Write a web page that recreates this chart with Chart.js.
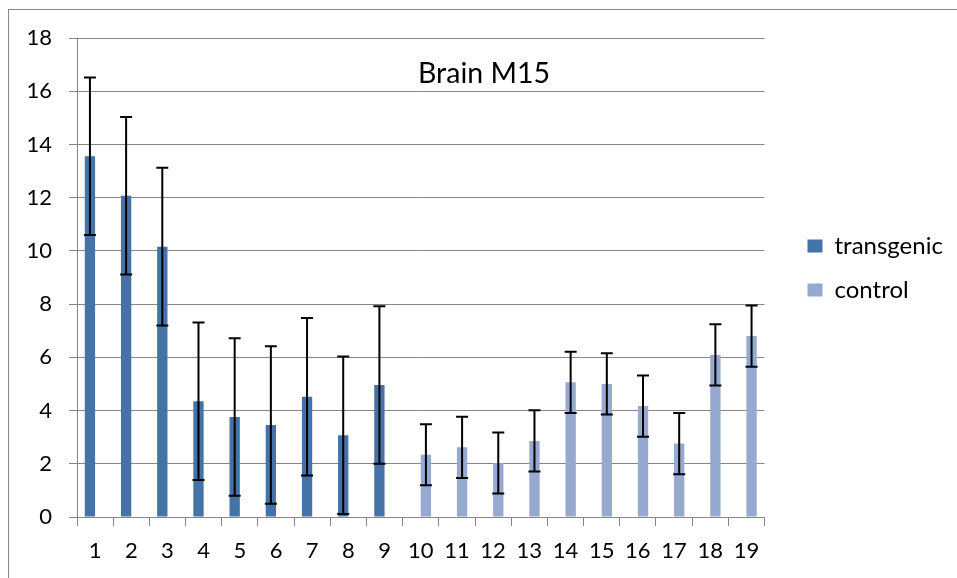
<!DOCTYPE html>
<html>
<head>
<meta charset="utf-8">
<script src="https://cdn.jsdelivr.net/npm/chart.js@4"></script>
<style>
  html, body { margin: 0; padding: 0; background: #fff; }
  #wrap { position: relative; width: 957px; height: 578px; overflow: hidden; }
  #frame { position: absolute; left: 8px; top: 9px; width: 1000px; height: 1000px; border: 1px solid #888; }
  canvas { position: absolute; left: 0; top: 0; }
</style>
</head>
<body>
<div id="wrap"><div id="frame"></div><canvas id="myChart" width="957" height="578"></canvas></div>
<script>
const labels = ['1','2','3','4','5','6','7','8','9','10','11','12','13','14','15','16','17','18','19'];

const transgenic = [13.56, 12.07, 10.16, 4.35, 3.76, 3.46, 4.52, 3.07, 4.96,
  null, null, null, null, null, null, null, null, null, null];
const transgenicErr = [2.96, 2.96, 2.96, 2.96, 2.96, 2.96, 2.96, 2.96, 2.96,
  0, 0, 0, 0, 0, 0, 0, 0, 0, 0];

const control = [null, null, null, null, null, null, null, null, null,
  2.34, 2.62, 2.03, 2.86, 5.06, 5.00, 4.17, 2.76, 6.09, 6.80];
const controlErr = [0, 0, 0, 0, 0, 0, 0, 0, 0,
  1.15, 1.15, 1.15, 1.15, 1.15, 1.15, 1.15, 1.15, 1.15, 1.15];

const yTicks = [0, 2, 4, 6, 8, 10, 12, 14, 16, 18];

const gray = '#868686';
const tickFont = { family: 'Lato', size: 22 };

// error bars drawn on top of each bar
const errorBars = {
  id: 'errorBars',
  afterDatasetsDraw(chart) {
    const ctx = chart.ctx;
    const y = chart.scales.y;
    chart.data.datasets.forEach((ds, i) => {
      const meta = chart.getDatasetMeta(i);
      meta.data.forEach((bar, j) => {
        const v = ds.data[j];
        if (v == null) return;
        const e = ds.errors[j];
        const top = y.getPixelForValue(v + e);
        const bot = y.getPixelForValue(v - e);
        ctx.save();
        ctx.strokeStyle = '#000';
        ctx.lineWidth = 2;
        ctx.beginPath();
        ctx.moveTo(bar.x, top); ctx.lineTo(bar.x, bot);
        ctx.moveTo(bar.x - 6, top); ctx.lineTo(bar.x + 6, top);
        ctx.moveTo(bar.x - 6, bot); ctx.lineTo(bar.x + 6, bot);
        ctx.stroke();
        ctx.restore();
      });
    });
  }
};

// title sits inside the plot area like in the excel chart
const innerTitle = {
  id: 'innerTitle',
  afterDraw(chart) {
    const ctx = chart.ctx;
    const a = chart.chartArea;
    ctx.save();
    ctx.font = '28.5px Lato';
    ctx.fillStyle = '#000';
    ctx.textAlign = 'center';
    ctx.textBaseline = 'alphabetic';
    ctx.fillText('Brain M15', a.left + 407, a.top + 44.5);
    ctx.restore();
  }
};

const data = {
  labels: labels,
  datasets: [{
    label: 'transgenic',
    backgroundColor: '#4572A7',
    data: transgenic,
    errors: transgenicErr
  }, {
    label: 'control',
    backgroundColor: '#95A9D1',
    data: control,
    errors: controlErr
  }]
};

const config = {
  type: 'bar',
  data: data,
  plugins: [errorBars, innerTitle],
  options: {
    responsive: false,
    animation: false,
    categoryPercentage: 0.57,
    barPercentage: 1.0,
    layout: { padding: { top: 38, left: 0, right: 12, bottom: 0 } },
    plugins: {
      legend: {
        position: 'right',
        align: 'start',
        // empty title only pushes the items down to mid height
        title: { display: true, text: '', font: { size: 10, lineHeight: 1 }, padding: { top: 0, bottom: 166 } },
        labels: {
          font: { family: 'Lato', size: 24 },
          color: '#000',
          boxWidth: 15,
          boxHeight: 13,
          padding: 20
        }
      },
      tooltip: { enabled: false }
    },
    scales: {
      x: {
        grid: { drawOnChartArea: false, tickLength: 9, color: gray },
        border: { color: gray },
        ticks: { font: tickFont, color: '#000', padding: 12, maxRotation: 0, autoSkip: false },
        afterFit: s => { s.height = 61; }
      },
      y: {
        min: 0,
        max: 18,
        afterBuildTicks: s => { s.ticks = yTicks.map(v => ({ value: v })); },
        ticks: { font: tickFont, color: '#000', padding: 17 },
        grid: { color: gray, tickLength: 8 },
        border: { color: gray },
        afterFit: s => { s.width = 77; }
      },
      yRight: {
        type: 'linear',
        position: 'right',
        display: true,
        grid: { display: false },
        ticks: { display: false },
        border: { display: false },
        afterFit: s => { s.width = 23; }
      }
    }
  }
};

const myChart = new Chart(document.getElementById('myChart'), config);
</script>
</body>
</html>
